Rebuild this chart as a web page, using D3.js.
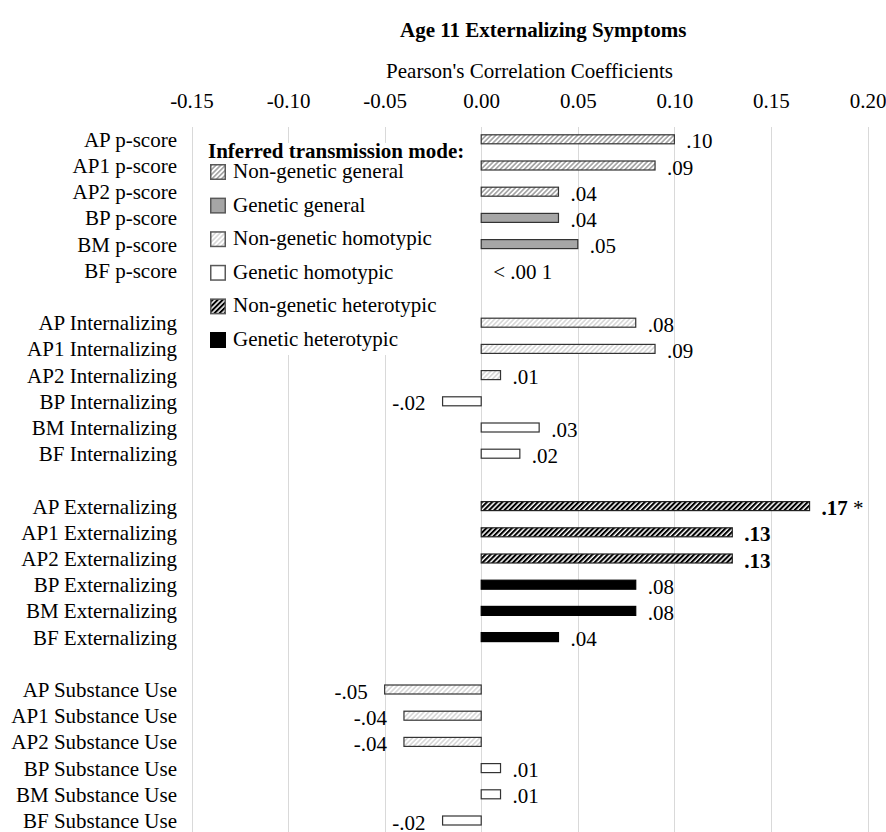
<!DOCTYPE html>
<html>
<head>
<meta charset="utf-8">
<script src="https://cdn.jsdelivr.net/npm/d3@7"></script>
<style>
  html, body { margin: 0; padding: 0; background: #fff; }
  svg { display: block; font-family: "Liberation Serif", "Times New Roman", serif; }
</style>
</head>
<body>
<div id="chart"></div>
<script>
// ---------------- data ----------------
const chartTitle = "Age 11 Externalizing Symptoms";
const axisTitle = "Pearson's Correlation Coefficients";
const legendTitle = "Inferred transmission mode:";

const categories = [
  "AP p-score", "AP1 p-score", "AP2 p-score", "BP p-score", "BM p-score", "BF p-score",
  "AP Internalizing", "AP1 Internalizing", "AP2 Internalizing", "BP Internalizing", "BM Internalizing", "BF Internalizing",
  "AP Externalizing", "AP1 Externalizing", "AP2 Externalizing", "BP Externalizing", "BM Externalizing", "BF Externalizing",
  "AP Substance Use", "AP1 Substance Use", "AP2 Substance Use", "BP Substance Use", "BM Substance Use", "BF Substance Use"
];
const groupIndex = [0,0,0,0,0,0, 1,1,1,1,1,1, 2,2,2,2,2,2, 3,3,3,3,3,3];
const values = [
  0.10, 0.09, 0.04, 0.04, 0.05, 0.0,
  0.08, 0.09, 0.01, -0.02, 0.03, 0.02,
  0.17, 0.13, 0.13, 0.08, 0.08, 0.04,
  -0.05, -0.04, -0.04, 0.01, 0.01, -0.02
];
const valueLabels = [
  ".10", ".09", ".04", ".04", ".05", "< .00 1",
  ".08", ".09", ".01", "-.02", ".03", ".02",
  ".17", ".13", ".13", ".08", ".08", ".04",
  "-.05", "-.04", "-.04", ".01", ".01", "-.02"
];
const boldLabel = [
  false,false,false,false,false,false,
  false,false,false,false,false,false,
  true,true,true,false,false,false,
  false,false,false,false,false,false
];
const significance = [
  "","","","","","",
  "","","","","","",
  "*","","","","","",
  "","","","","",""
];
const modes = ["Non-genetic general", "Genetic general", "Non-genetic homotypic",
               "Genetic homotypic", "Non-genetic heterotypic", "Genetic heterotypic"];
const rowMode = [
  0,0,0,1,1,1,
  2,2,2,3,3,3,
  4,4,4,5,5,5,
  2,2,2,3,3,3
];
const tickValues = [-0.15, -0.10, -0.05, 0.00, 0.05, 0.10, 0.15, 0.20];
const tickLabels = ["-0.15", "-0.10", "-0.05", "0.00", "0.05", "0.10", "0.15", "0.20"];

// ---------------- layout ----------------
const W = 886, H = 832;
const FS = 21;
const svg = d3.select("#chart").append("svg").attr("width", W).attr("height", H);
svg.append("rect").attr("width", W).attr("height", H).attr("fill", "#fff");

const defs = svg.append("defs");
function hatch(id, stripe, period, stripeW) {
  const p = defs.append("pattern").attr("id", id)
    .attr("patternUnits", "userSpaceOnUse")
    .attr("width", period).attr("height", period)
    .attr("patternTransform", "rotate(45)");
  p.append("rect").attr("width", period).attr("height", period).attr("fill", "#fff");
  p.append("rect").attr("width", stripeW).attr("height", period).attr("fill", stripe);
}
hatch("ngGeneral", "#a6a6a6", 3.4, 1.7);
hatch("ngHomo", "#d9d9d9", 3.4, 1.7);
hatch("ngHetero", "#000", 3.6, 2.1);

const modeFill = ["url(#ngGeneral)", "#a6a6a6", "url(#ngHomo)", "#fff", "url(#ngHetero)", "#000"];
const modeStroke = ["#333", "#333", "#333", "#333", "#222", "#000"];

// slots: rows with blank gaps between groups
const slots = [];
categories.forEach((c, i) => {
  if (i > 0 && groupIndex[i] !== groupIndex[i - 1]) slots.push("gap" + groupIndex[i]);
  slots.push(c);
});

const x = d3.scaleLinear().domain([-0.15, 0.20]).range([191.5, 867.5]);
const y = d3.scalePoint().domain(slots).range([139.3, 820.5]);
const barH = 9;

// gridlines
svg.append("g").selectAll("line").data(tickValues).join("line")
  .attr("x1", d => Math.round(x(d)) + 0.5).attr("x2", d => Math.round(x(d)) + 0.5)
  .attr("y1", 127).attr("y2", H)
  .attr("stroke", "#d9d9d9").attr("stroke-width", 1);

// titles
svg.append("text").attr("x", 400).attr("y", 37)
  .attr("font-size", FS).attr("font-weight", "bold").attr("fill", "#000")
  .text(chartTitle);
svg.append("text").attr("x", x(0.025)).attr("y", 78)
  .attr("text-anchor", "middle").attr("font-size", FS).attr("fill", "#000")
  .text(axisTitle);

// top axis labels
const axis = d3.axisTop(x).tickValues(tickValues)
  .tickFormat((d, i) => tickLabels[i]).tickSize(0).tickPadding(0);
const gAxis = svg.append("g").attr("transform", "translate(0,108)").call(axis);
gAxis.select(".domain").remove();
gAxis.selectAll("text").attr("font-size", FS).attr("font-family", "Liberation Serif, serif").attr("fill", "#000");

// category labels
const yAxis = d3.axisLeft(y).tickValues(categories).tickSize(0).tickPadding(0);
const gY = svg.append("g").attr("transform", "translate(177,0)").call(yAxis);
gY.select(".domain").remove();
gY.selectAll("text").attr("font-size", FS).attr("font-family", "Liberation Serif, serif")
  .attr("fill", "#000").attr("dy", "0.33em");

// legend box (white, covers gridlines)
const lg = svg.append("g");
lg.append("rect").attr("x", 203).attr("y", 143).attr("width", 268).attr("height", 212).attr("fill", "#fff");
lg.append("text").attr("x", 208).attr("y", 158).attr("font-size", FS).attr("font-weight", "bold")
  .attr("fill", "#000").text(legendTitle);
const legendY = d3.scaleLinear().domain([0, 5]).range([178, 346]);
const li = lg.selectAll("g.item").data(modes).join("g").attr("class", "item")
  .attr("transform", (d, i) => `translate(0,${legendY(i)})`);
li.append("rect").attr("x", 210.75).attr("y", -13.25).attr("width", 14.5).attr("height", 14.5)
  .attr("fill", (d, i) => modeFill[i])
  .attr("stroke", (d, i) => i === 5 ? "#000" : "#595959").attr("stroke-width", 1.5);
li.append("text").attr("x", 233).attr("y", 0).attr("font-size", FS).attr("fill", "#000").text(d => d);

// bars
const rows = categories.map((c, i) => ({ c, v: values[i], i }));
svg.append("g").selectAll("rect").data(rows).join("rect")
  .attr("x", d => Math.min(x(0), x(d.v)))
  .attr("width", d => Math.abs(x(d.v) - x(0)))
  .attr("y", d => y(d.c) - barH / 2)
  .attr("height", barH)
  .attr("fill", d => modeFill[rowMode[d.i]])
  .attr("stroke", d => modeStroke[rowMode[d.i]])
  .attr("stroke-width", 1.2);

// value labels
const vl = svg.append("g").selectAll("text").data(rows).join("text")
  .attr("x", d => d.v < 0 ? x(d.v) - 17 : x(d.v) + 12)
  .attr("y", d => y(d.c) + 9)
  .attr("text-anchor", d => d.v < 0 ? "end" : "start")
  .attr("font-size", FS).attr("fill", "#000");
vl.append("tspan").attr("font-weight", d => boldLabel[d.i] ? "bold" : "normal").text(d => valueLabels[d.i]);
vl.filter(d => significance[d.i] !== "").append("tspan").attr("font-weight", "normal")
  .text(d => " " + significance[d.i]);
</script>
</body>
</html>
